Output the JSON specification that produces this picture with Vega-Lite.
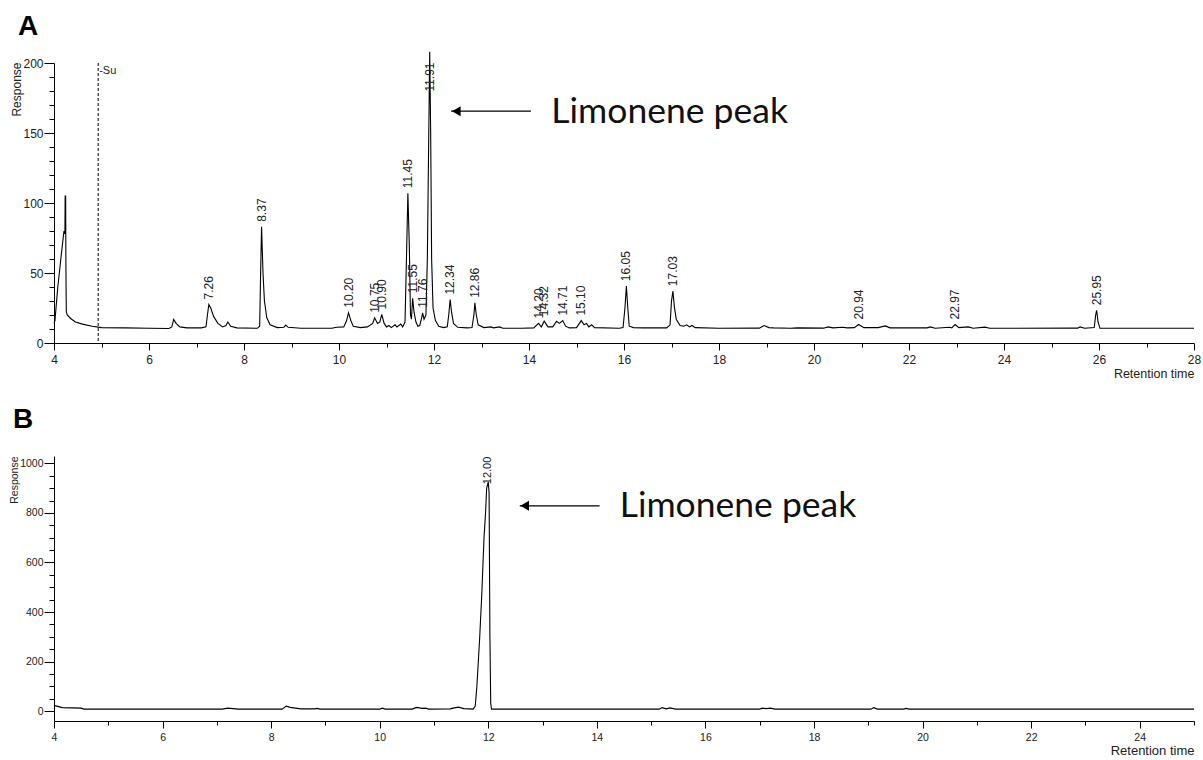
{
  "$schema": "https://vega.github.io/schema/vega-lite/v6.json",
  "autosize": {"type": "pad"},
  "padding": {"left": 8, "top": 12, "right": 5, "bottom": 5},
  "background": "white",
  "bounds": "flush",
  "spacing": 113,
  "config": {
    "view": {"stroke": null},
    "font": "Liberation Sans",
    "axis": {
      "grid": false,
      "domainColor": "black",
      "domainWidth": 1,
      "tickColor": "black",
      "tickWidth": 1,
      "labelColor": "#222",
      "labelFont": "Liberation Sans",
      "labelOverlap": false,
      "labelFlush": false,
      "titleFont": "Liberation Sans",
      "titleFontWeight": "normal",
      "titleColor": "#222"
    }
  },
  "datasets": {
    "traceA": [
      {"t": 4.00, "r": 14}, {"t": 4.02, "r": 16}, {"t": 4.08, "r": 40}, {"t": 4.15, "r": 62},
      {"t": 4.21, "r": 80}, {"t": 4.23, "r": 78}, {"t": 4.235, "r": 105}, {"t": 4.245, "r": 105},
      {"t": 4.25, "r": 60}, {"t": 4.255, "r": 35}, {"t": 4.26, "r": 22}, {"t": 4.28, "r": 20},
      {"t": 4.35, "r": 17.5}, {"t": 4.45, "r": 15}, {"t": 4.6, "r": 13.5}, {"t": 4.8, "r": 12},
      {"t": 5.0, "r": 11}, {"t": 5.5, "r": 10.8}, {"t": 6.0, "r": 10.5}, {"t": 6.42, "r": 10.4},
      {"t": 6.48, "r": 11.5}, {"t": 6.52, "r": 16.8}, {"t": 6.57, "r": 14}, {"t": 6.65, "r": 11.5},
      {"t": 6.8, "r": 10.8}, {"t": 7.1, "r": 10.8}, {"t": 7.2, "r": 11.5}, {"t": 7.23, "r": 20},
      {"t": 7.26, "r": 27.5, "p": "7.26"}, {"t": 7.30, "r": 25}, {"t": 7.36, "r": 19}, {"t": 7.45, "r": 14},
      {"t": 7.55, "r": 11.5}, {"t": 7.62, "r": 12.5}, {"t": 7.66, "r": 15}, {"t": 7.72, "r": 12},
      {"t": 7.85, "r": 10.8}, {"t": 8.28, "r": 10.5}, {"t": 8.33, "r": 12}, {"t": 8.35, "r": 50},
      {"t": 8.37, "r": 83, "p": "8.37"}, {"t": 8.40, "r": 50}, {"t": 8.43, "r": 30}, {"t": 8.48, "r": 18},
      {"t": 8.55, "r": 13}, {"t": 8.7, "r": 11}, {"t": 8.84, "r": 11.3}, {"t": 8.88, "r": 12.8},
      {"t": 8.93, "r": 11.2}, {"t": 9.2, "r": 10.5}, {"t": 9.85, "r": 10.5}, {"t": 9.95, "r": 11.2},
      {"t": 10.10, "r": 11.5}, {"t": 10.16, "r": 16}, {"t": 10.20, "r": 21.6, "p": "10.20"}, {"t": 10.25, "r": 16},
      {"t": 10.30, "r": 12}, {"t": 10.45, "r": 11}, {"t": 10.6, "r": 11.5}, {"t": 10.71, "r": 14},
      {"t": 10.75, "r": 18, "p": "10.75"}, {"t": 10.81, "r": 14}, {"t": 10.86, "r": 15}, {"t": 10.90, "r": 20.4, "p": "10.90"},
      {"t": 10.95, "r": 14}, {"t": 11.0, "r": 11.5}, {"t": 11.05, "r": 12.5}, {"t": 11.1, "r": 11},
      {"t": 11.18, "r": 13}, {"t": 11.22, "r": 11.5}, {"t": 11.3, "r": 13.5}, {"t": 11.34, "r": 11.5},
      {"t": 11.39, "r": 15}, {"t": 11.42, "r": 60}, {"t": 11.45, "r": 107, "p": "11.45"}, {"t": 11.48, "r": 70},
      {"t": 11.505, "r": 20}, {"t": 11.525, "r": 17}, {"t": 11.55, "r": 32, "p": "11.55"}, {"t": 11.58, "r": 22},
      {"t": 11.62, "r": 15}, {"t": 11.66, "r": 12}, {"t": 11.70, "r": 12.5}, {"t": 11.74, "r": 18},
      {"t": 11.76, "r": 21.6, "p": "11.76"}, {"t": 11.79, "r": 17}, {"t": 11.83, "r": 20}, {"t": 11.86, "r": 60},
      {"t": 11.89, "r": 150}, {"t": 11.91, "r": 208, "p": "11.91"}, {"t": 11.93, "r": 150}, {"t": 11.95, "r": 60},
      {"t": 11.98, "r": 25}, {"t": 12.03, "r": 16}, {"t": 12.10, "r": 12}, {"t": 12.2, "r": 11},
      {"t": 12.28, "r": 11.5}, {"t": 12.31, "r": 20}, {"t": 12.34, "r": 31, "p": "12.34"}, {"t": 12.37, "r": 22},
      {"t": 12.41, "r": 14}, {"t": 12.5, "r": 11.2}, {"t": 12.7, "r": 10.8}, {"t": 12.8, "r": 11},
      {"t": 12.84, "r": 20}, {"t": 12.86, "r": 28.7, "p": "12.86"}, {"t": 12.89, "r": 20}, {"t": 12.93, "r": 13},
      {"t": 13.05, "r": 11}, {"t": 13.2, "r": 11.5}, {"t": 13.25, "r": 10.8}, {"t": 13.38, "r": 11.5},
      {"t": 13.45, "r": 10.5}, {"t": 13.85, "r": 10.5}, {"t": 14.1, "r": 10.8}, {"t": 14.20, "r": 14, "p": "14.20"},
      {"t": 14.26, "r": 11.5}, {"t": 14.32, "r": 15.6, "p": "14.32"}, {"t": 14.4, "r": 11.5}, {"t": 14.5, "r": 11.5},
      {"t": 14.58, "r": 15.5}, {"t": 14.64, "r": 14}, {"t": 14.71, "r": 16, "p": "14.71"}, {"t": 14.77, "r": 12},
      {"t": 14.85, "r": 10.8}, {"t": 15.0, "r": 11}, {"t": 15.10, "r": 16, "p": "15.10"}, {"t": 15.16, "r": 13},
      {"t": 15.21, "r": 14}, {"t": 15.26, "r": 11.5}, {"t": 15.32, "r": 13}, {"t": 15.38, "r": 11},
      {"t": 15.9, "r": 10.5}, {"t": 15.98, "r": 11}, {"t": 16.02, "r": 25}, {"t": 16.05, "r": 40.6, "p": "16.05"},
      {"t": 16.08, "r": 25}, {"t": 16.11, "r": 12}, {"t": 16.2, "r": 11}, {"t": 16.4, "r": 10.8},
      {"t": 16.9, "r": 10.8}, {"t": 16.97, "r": 13}, {"t": 17.00, "r": 30}, {"t": 17.03, "r": 37, "p": "17.03"},
      {"t": 17.06, "r": 26}, {"t": 17.10, "r": 17}, {"t": 17.18, "r": 12.5}, {"t": 17.26, "r": 12},
      {"t": 17.32, "r": 13}, {"t": 17.38, "r": 11.5}, {"t": 17.43, "r": 12.5}, {"t": 17.5, "r": 11},
      {"t": 18.0, "r": 10.5}, {"t": 18.85, "r": 10.6}, {"t": 18.95, "r": 12.5}, {"t": 19.05, "r": 11},
      {"t": 19.15, "r": 10.8}, {"t": 19.5, "r": 10.5}, {"t": 19.65, "r": 10.8}, {"t": 20.2, "r": 10.6},
      {"t": 20.3, "r": 11.5}, {"t": 20.4, "r": 10.8}, {"t": 20.6, "r": 11.2}, {"t": 20.7, "r": 10.8},
      {"t": 20.85, "r": 11}, {"t": 20.94, "r": 13.2, "p": "20.94"}, {"t": 21.05, "r": 11}, {"t": 21.35, "r": 11},
      {"t": 21.5, "r": 12.2}, {"t": 21.6, "r": 10.8}, {"t": 22.38, "r": 10.8}, {"t": 22.45, "r": 11.5},
      {"t": 22.55, "r": 10.5}, {"t": 22.85, "r": 11.2}, {"t": 22.9, "r": 10.8}, {"t": 22.97, "r": 13.2, "p": "22.97"},
      {"t": 23.05, "r": 11}, {"t": 23.25, "r": 11.5}, {"t": 23.35, "r": 10.5}, {"t": 23.6, "r": 11.3},
      {"t": 23.7, "r": 10.5}, {"t": 25.55, "r": 10.6}, {"t": 25.6, "r": 11.5}, {"t": 25.7, "r": 10.5},
      {"t": 25.9, "r": 11}, {"t": 25.93, "r": 20}, {"t": 25.95, "r": 23.4, "p": "25.95"}, {"t": 25.98, "r": 15},
      {"t": 26.02, "r": 10.5}, {"t": 28.0, "r": 10.5}
    ],
    "traceB": [
      {"t": 4.00, "r": 22}, {"t": 4.05, "r": 20}, {"t": 4.15, "r": 14}, {"t": 4.5, "r": 12},
      {"t": 4.55, "r": 8}, {"t": 7.1, "r": 8}, {"t": 7.2, "r": 12}, {"t": 7.3, "r": 10},
      {"t": 7.4, "r": 8}, {"t": 8.2, "r": 8}, {"t": 8.28, "r": 20}, {"t": 8.35, "r": 15},
      {"t": 8.45, "r": 12}, {"t": 8.55, "r": 9}, {"t": 8.8, "r": 9}, {"t": 8.85, "r": 11},
      {"t": 8.9, "r": 8}, {"t": 10.0, "r": 8}, {"t": 10.05, "r": 12}, {"t": 10.1, "r": 8},
      {"t": 10.6, "r": 8}, {"t": 10.68, "r": 15}, {"t": 10.78, "r": 11}, {"t": 10.85, "r": 12},
      {"t": 10.9, "r": 8}, {"t": 11.3, "r": 9}, {"t": 11.35, "r": 12}, {"t": 11.45, "r": 16},
      {"t": 11.55, "r": 10}, {"t": 11.72, "r": 8}, {"t": 11.76, "r": 20}, {"t": 11.79, "r": 100},
      {"t": 11.84, "r": 290}, {"t": 11.88, "r": 470}, {"t": 11.92, "r": 694}, {"t": 11.95, "r": 802},
      {"t": 11.97, "r": 900}, {"t": 12.00, "r": 925, "p": "12.00"}, {"t": 12.015, "r": 880}, {"t": 12.03, "r": 300},
      {"t": 12.045, "r": 30}, {"t": 12.06, "r": 8}, {"t": 15.15, "r": 8}, {"t": 15.2, "r": 14},
      {"t": 15.28, "r": 9}, {"t": 15.35, "r": 13}, {"t": 15.45, "r": 8}, {"t": 17.0, "r": 8},
      {"t": 17.05, "r": 12}, {"t": 17.12, "r": 10}, {"t": 17.2, "r": 12}, {"t": 17.28, "r": 8},
      {"t": 19.05, "r": 8}, {"t": 19.1, "r": 14}, {"t": 19.17, "r": 8}, {"t": 19.65, "r": 8},
      {"t": 19.7, "r": 11}, {"t": 19.75, "r": 8}, {"t": 25.0, "r": 8}
    ],
    "notesA": [
      {"kind": "shaft", "t": 12.36, "t2": 14.04, "r": 165.6},
      {"kind": "head", "t": 12.47, "r": 165.6},
      {"kind": "note", "t": 14.47, "r": 157.3, "text": "Limonene peak"},
      {"kind": "marker", "t": 4.93, "r": 194, "text": "-Su"}
    ],
    "notesB": [
      {"kind": "shaft", "t": 12.58, "t2": 14.05, "r": 829},
      {"kind": "head", "t": 12.67, "r": 829},
      {"kind": "note", "t": 14.42, "r": 782, "text": "Limonene peak"}
    ]
  },
  "vconcat": [
    {
      "width": 1140,
      "height": 280,
      "title": {"text": "A", "anchor": "start", "frame": "group", "dx": -36, "offset": 9, "fontSize": 28, "fontWeight": "bold", "font": "Liberation Sans", "color": "black"},
      "encoding": {
        "x": {
          "field": "t", "type": "quantitative",
          "scale": {"domain": [4, 28], "nice": false, "zero": false},
          "axis": {
            "title": "Retention time", "titleAnchor": "end", "titleFontSize": 12.5, "titlePadding": 2,
            "tickCount": 48, "format": "d",
            "labelExpr": "datum.value % 2 === 0 ? datum.label : ''",
            "tickSize": {"condition": {"test": "datum.value % 2 === 0", "value": 7}, "value": 4},
            "labelFontSize": 12, "labelPadding": 4
          }
        },
        "y": {
          "field": "r", "type": "quantitative",
          "scale": {"domain": [0, 200], "nice": false, "zero": false},
          "axis": {
            "title": "Response", "titleFontSize": 12, "titleX": -38, "titleY": -1, "titleAlign": "right", "titleBaseline": "middle", "titleAngle": -90,
            "tickCount": 20, "format": "d",
            "labelExpr": "datum.value % 50 === 0 ? datum.label : ''",
            "tickSize": {"condition": {"test": "datum.value % 50 === 0", "value": 10}, "value": 5},
            "labelFontSize": 12, "labelPadding": 1
          }
        }
      },
      "layer": [
        {
          "data": {"name": "notesA"},
          "transform": [{"filter": "datum.kind === 'marker'"}],
          "mark": {"type": "rule", "color": "black", "strokeWidth": 1, "strokeDash": [3, 2]},
          "encoding": {"y": null}
        },
        {
          "data": {"name": "notesA"},
          "transform": [{"filter": "datum.kind === 'marker'"}],
          "mark": {"type": "text", "align": "left", "baseline": "middle", "dx": 1, "fontSize": 11, "color": "#222"},
          "encoding": {"text": {"field": "text"}}
        },
        {
          "data": {"name": "traceA"},
          "mark": {"type": "line", "color": "black", "strokeWidth": 1.1, "clip": false}
        },
        {
          "data": {"name": "traceA"},
          "transform": [{"filter": "isValid(datum.p)"}, {"calculate": "min(datum.r, 176)", "as": "r"}],
          "mark": {"type": "text", "angle": 270, "align": "left", "baseline": "middle", "dx": 5, "fontSize": 12, "color": "#222"},
          "encoding": {"text": {"field": "p"}}
        },
        {
          "data": {"name": "notesA"},
          "transform": [{"filter": "datum.kind === 'shaft'"}],
          "mark": {"type": "rule", "color": "black", "strokeWidth": 1.3},
          "encoding": {"x2": {"field": "t2"}}
        },
        {
          "data": {"name": "notesA"},
          "transform": [{"filter": "datum.kind === 'head'"}],
          "mark": {"type": "point", "shape": "triangle-left", "filled": true, "color": "black", "size": 100, "opacity": 1}
        },
        {
          "data": {"name": "notesA"},
          "transform": [{"filter": "datum.kind === 'note'"}],
          "mark": {"type": "text", "align": "left", "baseline": "alphabetic", "font": "Lato", "fontSize": 35.5, "color": "#111"},
          "encoding": {"text": {"field": "text"}}
        }
      ]
    },
    {
      "width": 1140,
      "height": 265,
      "title": {"text": "B", "anchor": "start", "frame": "group", "dx": -41, "offset": 22, "fontSize": 28, "fontWeight": "bold", "font": "Liberation Sans", "color": "black"},
      "encoding": {
        "x": {
          "field": "t", "type": "quantitative",
          "scale": {"domain": [4, 25], "nice": false, "zero": false},
          "axis": {
            "title": "Retention time", "titleAnchor": "end", "titleFontSize": 13, "titlePadding": 2,
            "tickCount": 42, "format": "d",
            "labelExpr": "datum.value % 2 === 0 ? datum.label : ''",
            "tickSize": {"condition": {"test": "datum.value % 2 === 0", "value": 7}, "value": 4},
            "labelFontSize": 10.5, "labelPadding": 4
          }
        },
        "y": {
          "field": "r", "type": "quantitative",
          "scale": {"domain": [-40, 1030], "nice": false, "zero": false},
          "axis": {
            "title": "Response", "titleFontSize": 10.5, "titleX": -40, "titleY": 0, "titleAlign": "right", "titleBaseline": "middle", "titleAngle": -90,
            "tickCount": 21, "format": "d",
            "labelExpr": "datum.value % 200 === 0 ? datum.label : ''",
            "tickSize": {"condition": {"test": "datum.value % 200 === 0", "value": 10}, "value": 5},
            "labelFontSize": 10.5, "labelPadding": 1
          }
        }
      },
      "layer": [
        {
          "data": {"name": "traceB"},
          "mark": {"type": "line", "color": "black", "strokeWidth": 1.1, "clip": false}
        },
        {
          "data": {"name": "traceB"},
          "transform": [{"filter": "isValid(datum.p)"}, {"calculate": "min(datum.r, 896)", "as": "r"}],
          "mark": {"type": "text", "angle": 270, "align": "left", "baseline": "middle", "dx": 5, "fontSize": 11, "color": "#222"},
          "encoding": {"text": {"field": "p"}}
        },
        {
          "data": {"name": "notesB"},
          "transform": [{"filter": "datum.kind === 'shaft'"}],
          "mark": {"type": "rule", "color": "black", "strokeWidth": 1.3},
          "encoding": {"x2": {"field": "t2"}}
        },
        {
          "data": {"name": "notesB"},
          "transform": [{"filter": "datum.kind === 'head'"}],
          "mark": {"type": "point", "shape": "triangle-left", "filled": true, "color": "black", "size": 100, "opacity": 1}
        },
        {
          "data": {"name": "notesB"},
          "transform": [{"filter": "datum.kind === 'note'"}],
          "mark": {"type": "text", "align": "left", "baseline": "alphabetic", "font": "Lato", "fontSize": 35.5, "color": "#111"},
          "encoding": {"text": {"field": "text"}}
        }
      ]
    }
  ]
}
